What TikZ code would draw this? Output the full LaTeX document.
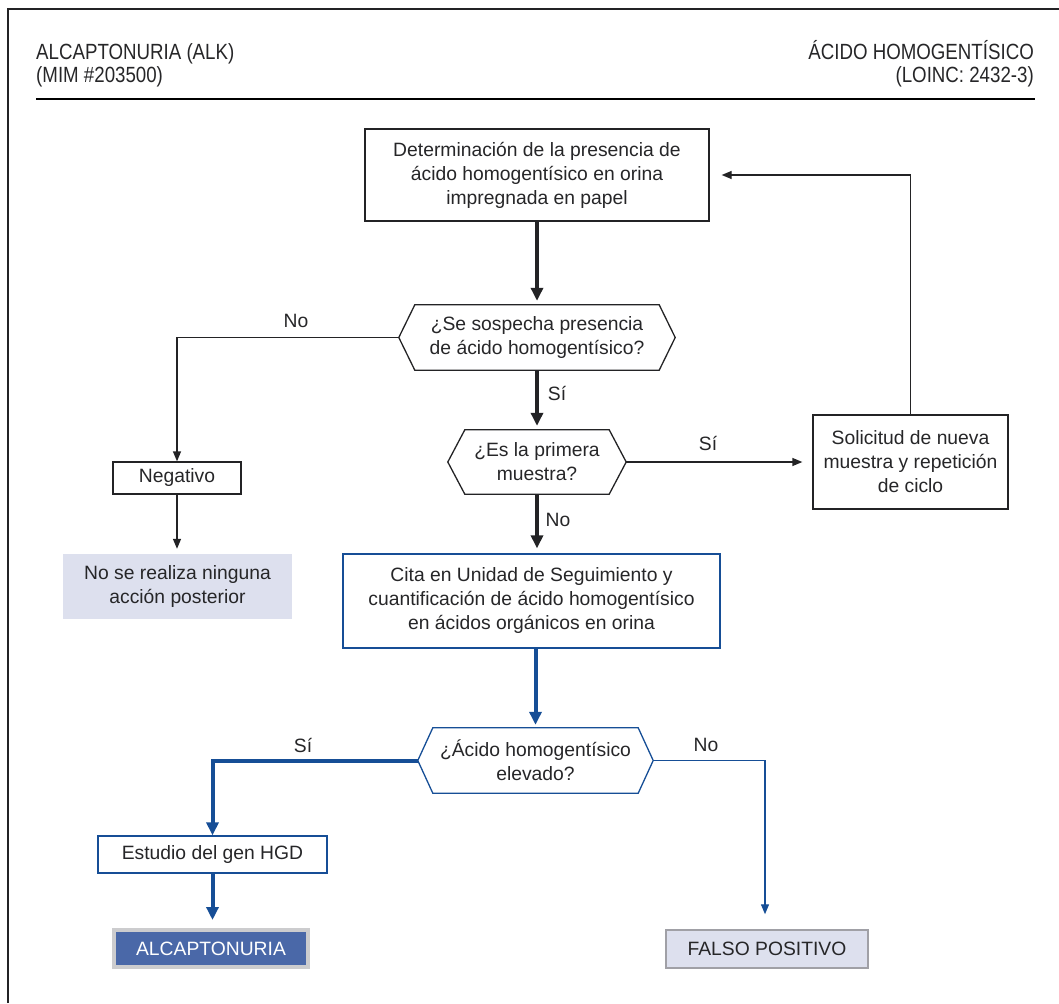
\documentclass[tikz,border=0pt]{standalone}
\usepackage{fontspec}
\setmainfont{Liberation Sans}
\newfontfamily\headfont{Liberation Sans}[FakeStretch=0.85]
\usetikzlibrary{arrows.meta}

\definecolor{ink}{RGB}{35,35,37}
\definecolor{txt}{RGB}{38,38,40}
\definecolor{navy}{RGB}{22,78,150}
\definecolor{navyfill}{RGB}{74,104,168}
\definecolor{lav}{RGB}{221,224,238}
\definecolor{rimgray}{RGB}{204,204,206}
\definecolor{rimdark}{RGB}{160,160,166}

% hexagonal decision outline around a (borderless) node
\newcommand\drawhex[3]{%
  \draw[#1] ([xshift=#3pt]#2.north west) -- ([xshift=-#3pt]#2.north east)
    -- (#2.east) -- ([xshift=-#3pt]#2.south east)
    -- ([xshift=#3pt]#2.south west) -- (#2.west) -- cycle;}

\begin{document}
\begin{tikzpicture}[x=1pt,y=-1pt,
  body/.style={font=\fontsize{19.3}{24}\selectfont, text=txt, align=center, inner sep=0pt},
  stepbox/.style={body, draw=ink, line width=1.3pt, fill=white},
  bluebox/.style={body, draw=navy, line width=1.3pt, fill=white},
  qnode/.style={body},
  lbl/.style={body},
  head/.style={font=\headfont\fontsize{22}{26}\selectfont, text=txt, inner sep=0pt},
  thin/.style={draw=ink, line width=1.3pt, -{Triangle[length=10pt,width=8pt]}},
  thick/.style={draw=ink, line width=4pt, -{Triangle[length=13pt,width=12pt]}},
  bthin/.style={draw=navy, line width=1.3pt, -{Triangle[length=10pt,width=8pt]}},
  bthick/.style={draw=navy, line width=4pt, -{Triangle[length=13pt,width=12pt]}},
]
\useasboundingbox (0,0) rectangle (1059,1003);

% page frame and header rule
\draw[ink, line width=1.3pt] (8,1003) -- (8,9) -- (1059,9);
\draw[black, line width=1.5pt] (36,99) -- (1035,99);

% header
\node[head, anchor=base west] (hl1) at (36,60) {ALCAPTONURIA (ALK)};
\node[head, anchor=base west] (hl2) at (36,83) {(MIM \#203500)};
\node[head, anchor=base east] (hr1) at (1034,60) {ÁCIDO HOMOGENTÍSICO};
\node[head, anchor=base east] (hr2) at (1034,83) {(LOINC: 2432-3)};

% steps
\node[stepbox, minimum width=344, minimum height=92] (det) at (537,175)
  {Determinación de la presencia de\\ácido homogentísico en orina\\impregnada en papel};

\node[qnode, minimum width=276, minimum height=65] (q1) at (537,337.5)
  {¿Se sospecha presencia\\de ácido homogentísico?};
\drawhex{ink, line width=1.3pt}{q1}{16}

\node[qnode, minimum width=178, minimum height=64] (q2) at (537,462)
  {¿Es la primera\\muestra?};
\drawhex{ink, line width=1.3pt}{q2}{17}

\node[stepbox, minimum width=128, minimum height=32] (neg) at (177,478) {Negativo};

\node[body, fill=lav, minimum width=229, minimum height=65] (none) at (177.5,586.5)
  {No se realiza ninguna\\acción posterior};

\node[stepbox, minimum width=195, minimum height=94] (sol) at (910.5,462)
  {Solicitud de nueva\\muestra y repetición\\de ciclo};

\node[bluebox, minimum width=377, minimum height=94] (cita) at (531.5,601)
  {Cita en Unidad de Seguimiento y\\cuantificación de ácido homogentísico\\en ácidos orgánicos en orina};

\node[qnode, minimum width=235, minimum height=65] (q3) at (535.5,760.5)
  {¿Ácido homogentísico\\elevado?};
\drawhex{navy, line width=1.3pt}{q3}{15}

\node[bluebox, minimum width=229, minimum height=37] (est) at (212.5,854.5)
  {Estudio del gen HGD};

\node[body, text=white, fill=navyfill, draw=rimgray, line width=4pt,
      minimum width=194, minimum height=37] (alc) at (211,948.5) {ALCAPTONURIA};

\node[body, fill=lav, draw=rimdark, line width=1.5pt,
      minimum width=202, minimum height=38] (fp) at (767,949) {FALSO POSITIVO};

% connectors
\draw[thick, shorten >=4pt] (det.south) -- (q1.north);
\draw[thin] (q1.west) -| (neg.north);
\draw[thin, shorten >=5pt] (neg.south) -- (neg.south |- none.north);
\draw[thick, shorten >=4pt] (q1.south) -- (q2.north);
\draw[thin, shorten >=10pt] (q2.east) -- (sol.west);
\draw[thin, shorten >=12pt] (sol.north) |- (det.east);
\draw[thick, shorten >=5pt] (q2.south) -- (q2.south |- cita.north);
\draw[bthick, shorten >=3pt] (q3.north |- cita.south) -- (q3.north);
\draw[bthick] (q3.west) -| (est.north);
\draw[bthin, shorten >=15pt] (q3.east) -| ([xshift=-2pt]fp.north);
\draw[bthick, shorten >=8pt] (est.south) -- (est.south |- alc.north);

% branch labels
\node[lbl] (no1) at (296,321) {No};
\node[lbl] (si1) at (557,393) {Sí};
\node[lbl] (si2) at (708,443) {Sí};
\node[lbl] (no2) at (558,520) {No};
\node[lbl] (si3) at (303,745) {Sí};
\node[lbl] (no3) at (706,745) {No};
\end{tikzpicture}
\end{document}
